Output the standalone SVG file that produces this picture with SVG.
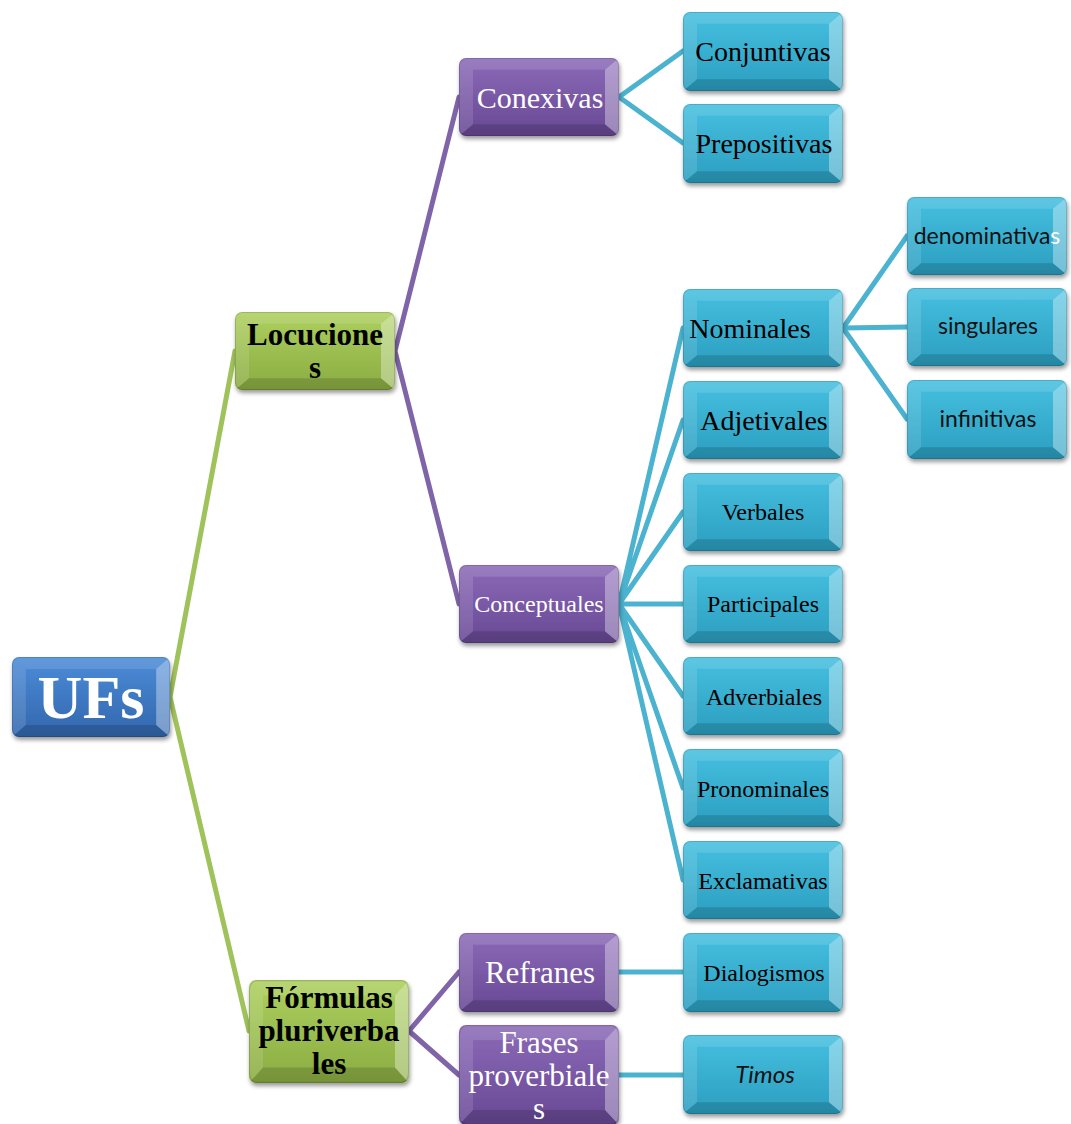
<svg xmlns="http://www.w3.org/2000/svg" xmlns:xlink="http://www.w3.org/1999/xlink" width="1071" height="1124" viewBox="0 0 1071 1124">
<style>
.con{fill:none;stroke-width:5;stroke-linecap:round;stroke-linejoin:round}
.cg{stroke:#9fc25a}.cp{stroke:#8064a8}.cb{stroke:#4bb3cf}
.box{filter:url(#sh)}
.fb{fill:url(#gB)}.fg{fill:url(#gG)}.fp{fill:url(#gP)}.fc{fill:url(#gC)}
text{text-anchor:middle;font-family:"Liberation Serif","Times New Roman",serif}
.w{fill:#fff}.k{fill:#000}.bd{font-weight:bold;fill:#000}
.s{font-family:Lato,"Open Sans","Liberation Sans",sans-serif;fill:#111}
</style>
<defs>
<linearGradient id="gB" x1="0" y1="0" x2="0" y2="1"><stop offset="0" stop-color="#4c8cd8"/><stop offset="1" stop-color="#3266ad"/></linearGradient>
<linearGradient id="gG" x1="0" y1="0" x2="0" y2="1"><stop offset="0" stop-color="#add05f"/><stop offset="1" stop-color="#8aac42"/></linearGradient>
<linearGradient id="gP" x1="0" y1="0" x2="0" y2="1"><stop offset="0" stop-color="#8c6ab8"/><stop offset="1" stop-color="#674894"/></linearGradient>
<linearGradient id="gC" x1="0" y1="0" x2="0" y2="1"><stop offset="0" stop-color="#46c0e0"/><stop offset="1" stop-color="#2b9ec0"/></linearGradient>
<filter id="sh" x="-10%" y="-10%" width="125%" height="130%"><feDropShadow dx="1" dy="3" stdDeviation="2" flood-color="#000" flood-opacity="0.4"/></filter>
<clipPath id="bc"><rect x="0" y="0" width="160" height="80" rx="7"/></clipPath>
<symbol id="bev" viewBox="0 0 160 80" preserveAspectRatio="none">
<g clip-path="url(#bc)">
<polygon points="0,0 160,0 146,12 14,12" fill="#fff" fill-opacity="0.12"/>
<polygon points="0,80 160,80 146,68 14,68" fill="#000" fill-opacity="0.14"/>
<polygon points="0,0 14,12 14,68 0,80" fill="#fff" fill-opacity="0.12"/>
<polygon points="160,0 146,12 146,68 160,80" fill="#fff" fill-opacity="0.35"/>
<rect x="0.5" y="0.5" width="159" height="79" rx="7" fill="none" stroke="#000" stroke-opacity="0.15"/>
</g>
</symbol>
</defs>

<g id="connectors">
<path class="con cg" d="M170,697 L235,351 M170,697 L249,1031"/>
<path class="con cp" d="M395,351 L459,97 M395,351 L459,604 M409,1031 L459,972 M409,1031 L459,1075"/>
<path class="con cb" d="M619,97 L683,51 M619,97 L683,143"/>
<path class="con cb" d="M619,604 L683,328 M619,604 L683,420 M619,604 L683,512 M619,604 L683,604 M619,604 L683,696 M619,604 L683,788 M619,604 L683,880"/>
<path class="con cb" d="M843,328 L907,236 M843,328 L907,327 M843,328 L907,419"/>
<path class="con cb" d="M619,972 L683,972 M619,1075 L683,1075"/>
</g>

<g id="n-ufs"><rect class="box fb" x="12" y="657" width="158" height="80" rx="7"/><use xlink:href="#bev" x="12" y="657" width="158" height="80"/><text class="w" x="91" y="718" font-size="62" font-weight="bold">UFs</text></g>

<g id="n-locuciones"><rect class="box fg" x="235" y="312" width="160" height="78" rx="7"/><use xlink:href="#bev" x="235" y="312" width="160" height="78"/><text class="bd" font-size="31"><tspan x="315" y="345">Locucione</tspan><tspan x="315" y="378">s</tspan></text></g>

<g id="n-formulas"><rect class="box fg" x="249" y="980" width="160" height="103" rx="7"/><use xlink:href="#bev" x="249" y="980" width="160" height="103"/><text class="bd" font-size="31"><tspan x="329" y="1008">Fórmulas</tspan><tspan x="329" y="1041">pluriverba</tspan><tspan x="329" y="1074">les</tspan></text></g>

<g id="n-conexivas"><rect class="box fp" x="459" y="58" width="160" height="78" rx="7"/><use xlink:href="#bev" x="459" y="58" width="160" height="78"/><text class="w" x="540" y="108" font-size="30">Conexivas</text></g>

<g id="n-conceptuales"><rect class="box fp" x="459" y="565" width="160" height="78" rx="7"/><use xlink:href="#bev" x="459" y="565" width="160" height="78"/><text class="w" x="539" y="612" font-size="24">Conceptuales</text></g>

<g id="n-refranes"><rect class="box fp" x="459" y="933" width="160" height="79" rx="7"/><use xlink:href="#bev" x="459" y="933" width="160" height="79"/><text class="w" x="540" y="983" font-size="31">Refranes</text></g>

<g id="n-frases"><rect class="box fp" x="459" y="1025" width="160" height="100" rx="7"/><use xlink:href="#bev" x="459" y="1025" width="160" height="100"/><text class="w" font-size="31"><tspan x="539" y="1053">Frases</tspan><tspan x="539" y="1086">proverbiale</tspan><tspan x="539" y="1119">s</tspan></text></g>

<g id="n-conjuntivas"><rect class="box fc" x="683" y="12" width="160" height="79" rx="7"/><use xlink:href="#bev" x="683" y="12" width="160" height="79"/><text class="k" x="763" y="61" font-size="28">Conjuntivas</text></g>

<g id="n-prepositivas"><rect class="box fc" x="683" y="104" width="160" height="79" rx="7"/><use xlink:href="#bev" x="683" y="104" width="160" height="79"/><text class="k" x="764" y="153" font-size="28">Prepositivas</text></g>

<g id="n-nominales"><rect class="box fc" x="683" y="289" width="160" height="78" rx="7"/><use xlink:href="#bev" x="683" y="289" width="160" height="78"/><text class="k" x="750" y="338" font-size="28">Nominales</text></g>

<g id="n-adjetivales"><rect class="box fc" x="683" y="381" width="160" height="78" rx="7"/><use xlink:href="#bev" x="683" y="381" width="160" height="78"/><text class="k" x="764" y="430" font-size="28">Adjetivales</text></g>

<g id="n-verbales"><rect class="box fc" x="683" y="473" width="160" height="78" rx="7"/><use xlink:href="#bev" x="683" y="473" width="160" height="78"/><text class="k" x="763" y="520" font-size="24">Verbales</text></g>

<g id="n-participales"><rect class="box fc" x="683" y="565" width="160" height="78" rx="7"/><use xlink:href="#bev" x="683" y="565" width="160" height="78"/><text class="k" x="763" y="612" font-size="24">Participales</text></g>

<g id="n-adverbiales"><rect class="box fc" x="683" y="657" width="160" height="78" rx="7"/><use xlink:href="#bev" x="683" y="657" width="160" height="78"/><text class="k" x="764" y="705" font-size="24">Adverbiales</text></g>

<g id="n-pronominales"><rect class="box fc" x="683" y="749" width="160" height="78" rx="7"/><use xlink:href="#bev" x="683" y="749" width="160" height="78"/><text class="k" x="763" y="797" font-size="24">Pronominales</text></g>

<g id="n-exclamativas"><rect class="box fc" x="683" y="841" width="160" height="78" rx="7"/><use xlink:href="#bev" x="683" y="841" width="160" height="78"/><text class="k" x="763" y="889" font-size="24">Exclamativas</text></g>

<g id="n-dialogismos"><rect class="box fc" x="683" y="933" width="160" height="79" rx="7"/><use xlink:href="#bev" x="683" y="933" width="160" height="79"/><text class="k" x="764" y="981" font-size="24">Dialogismos</text></g>

<g id="n-timos"><rect class="box fc" x="683" y="1035" width="160" height="79" rx="7"/><use xlink:href="#bev" x="683" y="1035" width="160" height="79"/><text class="s" x="765" y="1083" font-size="24" font-style="italic">Timos</text></g>

<g id="n-denominativas"><rect class="box fc" x="907" y="197" width="160" height="78" rx="7"/><use xlink:href="#bev" x="907" y="197" width="160" height="78"/><text class="s" x="987" y="244" font-size="23">denominativa<tspan fill="#fff">s</tspan></text></g>

<g id="n-singulares"><rect class="box fc" x="907" y="288" width="160" height="78" rx="7"/><use xlink:href="#bev" x="907" y="288" width="160" height="78"/><text class="s" x="988" y="334" font-size="23">singulares</text></g>

<g id="n-infinitivas"><rect class="box fc" x="907" y="380" width="160" height="79" rx="7"/><use xlink:href="#bev" x="907" y="380" width="160" height="79"/><text class="s" x="988" y="427" font-size="23">infinitivas</text></g>
</svg>
